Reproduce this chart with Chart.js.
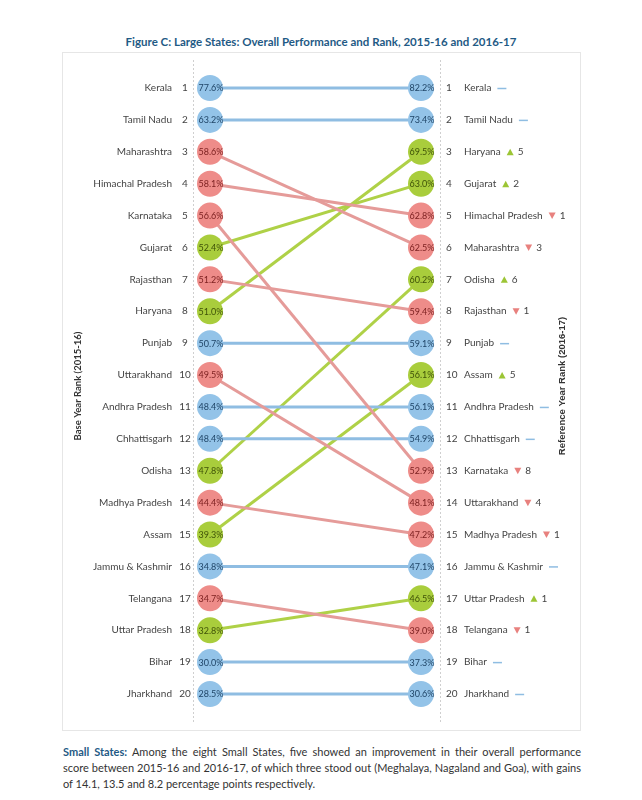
<!DOCTYPE html>
<html>
<head>
<meta charset="utf-8">
<script src="https://cdn.jsdelivr.net/npm/chart.js@4.4.0/dist/chart.umd.min.js"></script>
<style>
  html, body { margin: 0; padding: 0; background: #fff; }
  body { width: 642px; height: 800px; position: relative; overflow: hidden; font-family: Lato, "Open Sans", sans-serif; }
  #title { position: absolute; left: 0; width: 642px; top: 35px; text-align: center; font-weight: bold; font-size: 11.5px; color: #1f5a85; }
  #panel { position: absolute; left: 62px; top: 52px; width: 517px; height: 677px; border: 1px solid #e6e6e6; box-sizing: content-box; }
  #chart { position: absolute; left: 62px; top: 52px; }
  #para { position: absolute; left: 63px; top: 744px; width: 518px; font-size: 11px; color: #333; line-height: 16px; }
  #para div { text-align: justify; text-align-last: justify; white-space: nowrap; }
  #para div.last { text-align-last: left; }
  #para b { color: #1f5a85; }
</style>
</head>
<body>
<div id="title">Figure C: Large States: Overall Performance and Rank, 2015-16 and 2016-17</div>
<div id="panel"></div>
<canvas id="chart" width="518" height="678"></canvas>
<div id="para">
  <div><b>Small States:</b> Among the eight Small States, five showed an improvement in their overall performance</div>
  <div>score between 2015-16 and 2016-17, of which three stood out (Meghalaya, Nagaland and Goa), with gains</div>
  <div class="last">of 14.1, 13.5 and 8.2 percentage points respectively.</div>
</div>
<script>
// ---- data ----
const states = ["Kerala","Tamil Nadu","Maharashtra","Himachal Pradesh","Karnataka","Gujarat","Rajasthan","Haryana","Punjab","Uttarakhand","Andhra Pradesh","Chhattisgarh","Odisha","Madhya Pradesh","Assam","Jammu & Kashmir","Telangana","Uttar Pradesh","Bihar","Jharkhand"];
const baseRank = [1,2,3,4,5,6,7,8,9,10,11,12,13,14,15,16,17,18,19,20];
const baseScore = [77.6,63.2,58.6,58.1,56.6,52.4,51.2,51.0,50.7,49.5,48.4,48.4,47.8,44.4,39.3,34.8,34.7,32.8,30.0,28.5];
const refRank = [1,2,6,5,13,4,8,3,9,14,11,12,7,15,10,16,18,17,19,20];
const refScore = [82.2,73.4,62.5,62.8,52.9,63.0,59.4,69.5,59.1,48.1,56.1,54.9,60.2,47.2,56.1,47.1,39.0,46.5,37.3,30.6];
const leftTitle = "Base Year Rank (2015-16)";
const rightTitle = "Reference Year Rank (2016-17)";

// ---- styles ----
const COL = {
  up:   { fill: "#a9cd3c", line: "#afd147", text: "#3f5208", mark: "#9cc535" },
  down: { fill: "#ee8c89", line: "#e59b99", text: "#7a1f1f", mark: "#e8817e" },
  same: { fill: "#93c3e8", line: "#8fbde2", text: "#1f4466", mark: "#8fbde2" }
};
function status(i) {
  if (refRank[i] < baseRank[i]) return "up";
  if (refRank[i] > baseRank[i]) return "down";
  return "same";
}

const datasets = states.map((s, i) => {
  const c = COL[status(i)];
  return {
    label: s,
    data: [{ x: 0, y: baseRank[i], v: baseScore[i] }, { x: 1, y: refRank[i], v: refScore[i] }],
    borderColor: c.line,
    backgroundColor: c.fill,
    pointBackgroundColor: c.fill,
    pointBorderWidth: 0,
    pointRadius: 13,
    pointHoverRadius: 13,
    borderWidth: 3,
    tension: 0,
    clip: false
  };
});

const FONT = "Lato, 'Open Sans', sans-serif";

const labelPlugin = {
  id: "labels",
  beforeDatasetsDraw(chart) {
    const ctx = chart.ctx;
    ctx.save();
    ctx.strokeStyle = "#cfcfcf";
    ctx.lineWidth = 1;
    ctx.setLineDash([2, 2]);
    [131.5, 378.5].forEach(x => {
      ctx.beginPath();
      ctx.moveTo(x, 8);
      ctx.lineTo(x, 670);
      ctx.stroke();
    });
    ctx.restore();
  },
  afterDatasetsDraw(chart) {
    const ctx = chart.ctx;
    const xs = chart.scales.x, ys = chart.scales.y;
    ctx.save();
    // values inside circles
    ctx.textAlign = "center";
    ctx.textBaseline = "middle";
    ctx.font = "9px " + FONT;
    states.forEach((s, i) => {
      const c = COL[status(i)];
      ctx.fillStyle = c.text;
      ctx.fillText(baseScore[i].toFixed(1) + "%", xs.getPixelForValue(0) + 1, ys.getPixelForValue(baseRank[i]) + 0.5);
      ctx.fillText(refScore[i].toFixed(1) + "%", xs.getPixelForValue(1) + 1, ys.getPixelForValue(refRank[i]) + 0.5);
    });
    // left labels
    ctx.font = "10px " + FONT;
    states.forEach((s, i) => {
      const y = ys.getPixelForValue(baseRank[i]);
      ctx.fillStyle = "#444";
      ctx.textAlign = "right";
      ctx.fillText(s, 110, y);
      ctx.textAlign = "center";
      ctx.fillText(String(baseRank[i]), 123, y);
    });
    // right labels
    states.forEach((s, i) => {
      const y = ys.getPixelForValue(refRank[i]);
      const st = status(i);
      ctx.font = "10px " + FONT;
      ctx.fillStyle = "#444";
      ctx.textAlign = "left";
      ctx.fillText(String(refRank[i]), 384, y);
      ctx.fillText(s, 402, y);
      let x = 402 + ctx.measureText(s).width + 6;
      if (st === "same") {
        ctx.strokeStyle = COL.same.mark;
        ctx.lineWidth = 1.5;
        ctx.beginPath();
        ctx.moveTo(x, y + 0.5);
        ctx.lineTo(x + 9, y + 0.5);
        ctx.stroke();
      } else {
        ctx.fillStyle = COL[st].mark;
        ctx.beginPath();
        if (st === "up") {
          ctx.moveTo(x, y + 3.5); ctx.lineTo(x + 7, y + 3.5); ctx.lineTo(x + 3.5, y - 3);
        } else {
          ctx.moveTo(x, y - 3); ctx.lineTo(x + 7, y - 3); ctx.lineTo(x + 3.5, y + 3.5);
        }
        ctx.closePath();
        ctx.fill();
        ctx.fillStyle = "#444";
        ctx.font = "10px " + FONT;
        ctx.fillText(String(Math.abs(refRank[i] - baseRank[i])), x + 11, y);
      }
    });
    // axis titles
    const midY = (ys.getPixelForValue(1) + ys.getPixelForValue(20)) / 2 - 5;
    ctx.fillStyle = "#333";
    ctx.textAlign = "center";
    ctx.font = "bold 9.5px " + FONT;
    ctx.save();
    ctx.translate(16, midY);
    ctx.rotate(-Math.PI / 2);
    ctx.fillText(leftTitle, 0, 0);
    ctx.restore();
    ctx.save();
    ctx.font = "bold 9.5px 'Liberation Sans', Arial, sans-serif";
    ctx.translate(500, midY);
    ctx.rotate(-Math.PI / 2);
    ctx.fillText(rightTitle, 0, 0);
    ctx.restore();
    ctx.restore();
  }
};

new Chart(document.getElementById("chart"), {
  type: "line",
  data: { datasets },
  options: {
    responsive: false,
    animation: false,
    events: [],
    layout: { padding: { left: 148, right: 159, top: 36, bottom: 36 } },
    plugins: { legend: { display: false }, tooltip: { enabled: false }, title: { display: false } },
    scales: {
      x: { type: "linear", min: 0, max: 1, display: false },
      y: { type: "linear", min: 1, max: 20, reverse: true, display: false }
    }
  },
  plugins: [labelPlugin]
});
</script>
</body>
</html>
